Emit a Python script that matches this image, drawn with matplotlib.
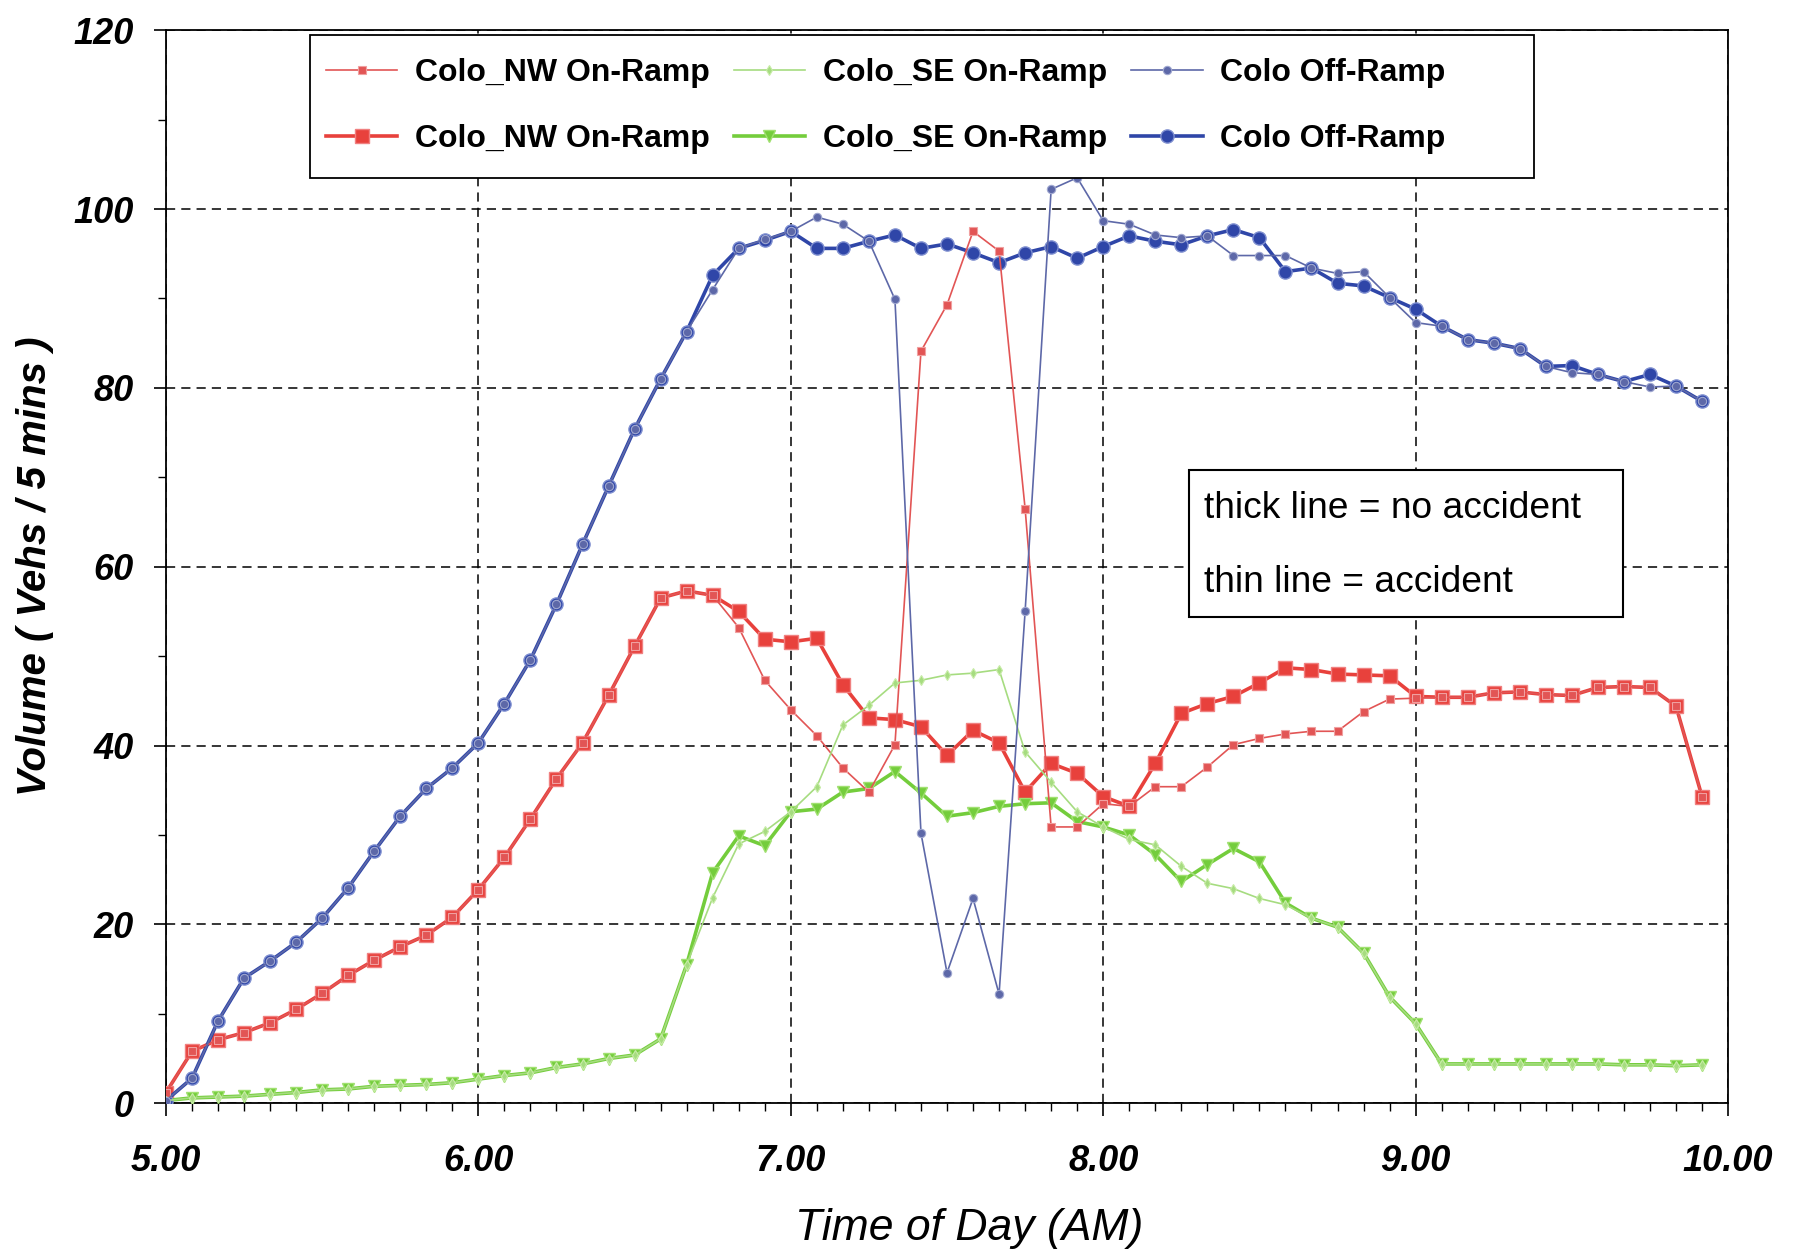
import numpy as np
import matplotlib
matplotlib.use('Agg')
import matplotlib.pyplot as plt
from matplotlib.patches import Rectangle
from matplotlib.ticker import MultipleLocator

plt.rcParams['font.family'] = ['Liberation Sans', 'DejaVu Sans']

# 5-minute samples from 5:00 to 9:55
minutes = np.array(range(0, 300, 5))
hours = 5 + minutes / 60.0

# Colo_NW On-Ramp
nw_thick = [1.2, 5.8, 7.1, 7.9, 9.0, 10.5, 12.3, 14.3, 16.0, 17.5,
            18.8, 20.8, 23.9, 27.5, 31.8, 36.3, 40.3, 45.6, 51.1, 56.5,
            57.3, 56.8, 55.0, 51.9, 51.6, 52.0, 46.8, 43.1, 42.9, 42.1,
            38.9, 41.7, 40.3, 34.8, 38.0, 36.9, 34.3, 33.2, 38.0, 43.6,
            44.7, 45.5, 47.0, 48.7, 48.5, 48.0, 47.9, 47.8, 45.5, 45.4,
            45.4, 45.9, 46.0, 45.7, 45.6, 46.5, 46.6, 46.5, 44.4, 34.3]
nw_thin = [1.2, 5.8, 7.1, 7.9, 9.0, 10.5, 12.3, 14.3, 16.0, 17.5,
           18.8, 20.8, 23.9, 27.5, 31.8, 36.3, 40.3, 45.6, 51.1, 56.5,
           57.3, 56.8, 53.2, 47.3, 44.0, 41.1, 37.5, 34.8, 40.1, 84.1,
           89.3, 97.5, 95.3, 66.5, 30.9, 30.9, 33.5, 33.2, 35.4, 35.4,
           37.6, 40.1, 40.8, 41.3, 41.6, 41.6, 43.8, 45.2, 45.3, 45.4,
           45.4, 45.9, 46.0, 45.7, 45.6, 46.5, 46.6, 46.5, 44.4, 34.3]

# Colo_SE On-Ramp
se_thick = [0.3, 0.6, 0.7, 0.8, 1.0, 1.2, 1.5, 1.6, 1.9, 2.0,
            2.1, 2.3, 2.7, 3.1, 3.4, 4.0, 4.4, 5.0, 5.4, 7.2,
            15.5, 25.8, 29.9, 28.8, 32.6, 32.9, 34.8, 35.2, 37.1, 34.7,
            32.1, 32.5, 33.2, 33.5, 33.6, 31.5, 30.9, 30.0, 27.8, 24.8,
            26.7, 28.5, 27.0, 22.4, 20.7, 19.7, 16.8, 11.9, 8.9, 4.4,
            4.4, 4.4, 4.4, 4.4, 4.4, 4.4, 4.3, 4.3, 4.2, 4.3]
se_thin = [0.3, 0.6, 0.7, 0.8, 1.0, 1.2, 1.5, 1.6, 1.9, 2.0,
           2.1, 2.3, 2.7, 3.1, 3.4, 4.0, 4.4, 5.0, 5.4, 7.2,
           15.5, 23.0, 29.0, 30.4, 32.6, 35.4, 42.3, 44.5, 47.0, 47.3,
           47.9, 48.1, 48.5, 39.3, 35.9, 32.6, 30.9, 29.5, 28.9, 26.5,
           24.6, 24.0, 22.9, 22.2, 20.7, 19.7, 16.8, 11.9, 8.9, 4.4,
           4.4, 4.4, 4.4, 4.4, 4.4, 4.4, 4.3, 4.3, 4.2, 4.3]

# Colo Off-Ramp
off_thick = [0.3, 2.8, 9.2, 14.0, 15.9, 18.0, 20.7, 24.1, 28.2, 32.1,
             35.2, 37.5, 40.3, 44.7, 49.6, 55.8, 62.5, 69.0, 75.4, 81.0,
             86.3, 92.6, 95.6, 96.5, 97.5, 95.6, 95.6, 96.4, 97.1, 95.6,
             96.1, 95.1, 94.0, 95.1, 95.8, 94.5, 95.8, 97.0, 96.4, 96.0,
             97.0, 97.7, 96.8, 93.0, 93.4, 91.7, 91.4, 90.1, 88.8, 86.9,
             85.4, 85.0, 84.4, 82.4, 82.5, 81.5, 80.7, 81.5, 80.2, 78.5]
off_thin = [0.3, 2.8, 9.2, 14.0, 15.9, 18.0, 20.7, 24.1, 28.2, 32.1,
            35.2, 37.5, 40.3, 44.7, 49.6, 55.8, 62.5, 69.0, 75.4, 81.0,
            86.3, 91.0, 95.6, 96.6, 97.5, 99.1, 98.3, 96.4, 89.9, 30.2,
            14.6, 22.9, 12.2, 55.0, 102.2, 103.5, 98.7, 98.3, 97.1, 96.8,
            97.0, 94.8, 94.8, 94.8, 93.4, 92.8, 93.0, 90.1, 87.3, 86.9,
            85.4, 85.0, 84.4, 82.4, 81.7, 81.5, 80.7, 80.1, 80.2, 78.5]

red = '#e8413c'
green = '#74cd3c'
blue = '#2f46a8'

fig = plt.figure(figsize=(17.98, 12.58), dpi=100)
ax = fig.add_axes([0.0923, 0.123, 0.8688, 0.853])

# thick lines = no accident
ax.plot(hours, nw_thick, color=red, lw=2.6, marker='s', ms=10, mec='#f08080', mew=1, zorder=3)
ax.plot(hours, se_thick, color=green, lw=2.6, marker='v', ms=9, mec='#a0e070', mew=1, zorder=3)
ax.plot(hours, off_thick, color=blue, lw=2.6, marker='o', ms=9.5, mec='#7f8fd0', mew=1, zorder=3)
# thin lines = accident
ax.plot(hours, nw_thin, color='#e25555', lw=1.2, marker='s', ms=6, mec='#f0a0a0', mew=0.8, zorder=4)
ax.plot(hours, se_thin, color='#a6dc80', lw=1.2, marker='d', ms=5, mec='#c8eca8', mew=0.8, zorder=4)
ax.plot(hours, off_thin, color='#5d68a8', lw=1.2, marker='o', ms=6, mec='#a0a8d0', mew=0.8, zorder=4)

ax.set_xlim(5, 10)
ax.set_ylim(0, 120)
ax.xaxis.set_minor_locator(MultipleLocator(1 / 12))
ax.yaxis.set_major_locator(MultipleLocator(20))
ax.yaxis.set_minor_locator(MultipleLocator(10))
ax.set_xticks([5, 6, 7, 8, 9, 10])
ax.set_xticklabels(['5.00', '6.00', '7.00', '8.00', '9.00', '10.00'])
ax.grid(True, which='major', color='black', linestyle=(0, (6, 4)), lw=1.1)
ax.tick_params(axis='both', which='major', direction='out', length=9, width=1.2,
               labelsize=26)
ax.tick_params(axis='x', which='major', pad=20)
ax.tick_params(axis='y', which='major', pad=14)
ax.tick_params(axis='both', which='minor', direction='out', length=6, width=1.0)
for lab in ax.get_xticklabels() + ax.get_yticklabels():
    lab.set_fontweight('bold')
    lab.set_fontstyle('italic')
for sp in ax.spines.values():
    sp.set_linewidth(1.3)

ax.set_xlabel('Time of Day (AM)', fontsize=32, fontstyle='italic')
ax.xaxis.set_label_coords(0.514, -0.098)
ax.set_ylabel('Volume ( Vehs / 5 mins )', fontsize=29, fontstyle='italic',
              fontweight='bold', labelpad=14)

# legend frame drawn separately so its padding matches the original
frame = Rectangle((0.0919, 0.8624), 0.7841, 0.1335, transform=ax.transAxes,
                  facecolor='white', edgecolor='black', lw=1.3, zorder=9)
ax.add_patch(frame)

handles = ax.get_lines()
order = [3, 0, 4, 1, 5, 2]
labels = ['Colo_NW On-Ramp', 'Colo_NW On-Ramp', 'Colo_SE On-Ramp',
          'Colo_SE On-Ramp', 'Colo Off-Ramp', 'Colo Off-Ramp']
leg = ax.legend([handles[k] for k in order], labels, ncol=3, loc='upper left',
                bbox_to_anchor=(0.1022, 0.974), prop={'weight': 'bold', 'size': 23},
                frameon=False, handlelength=2.25, handletextpad=0.54,
                columnspacing=0.75, labelspacing=1.12, borderpad=0,
                borderaxespad=0)
leg.set_zorder(10)

box = Rectangle((0.655, 0.453), 0.278, 0.137, transform=ax.transAxes,
                facecolor='white', edgecolor='black', lw=1.5, zorder=9)
ax.add_patch(box)
ax.text(0.6645, 0.5545, 'thick line = no accident', transform=ax.transAxes,
        fontsize=26.7, va='center', ha='left', zorder=10)
ax.text(0.6645, 0.485, 'thin line = accident', transform=ax.transAxes,
        fontsize=26.7, va='center', ha='left', zorder=10)

fig.savefig('out.png', dpi=100)
